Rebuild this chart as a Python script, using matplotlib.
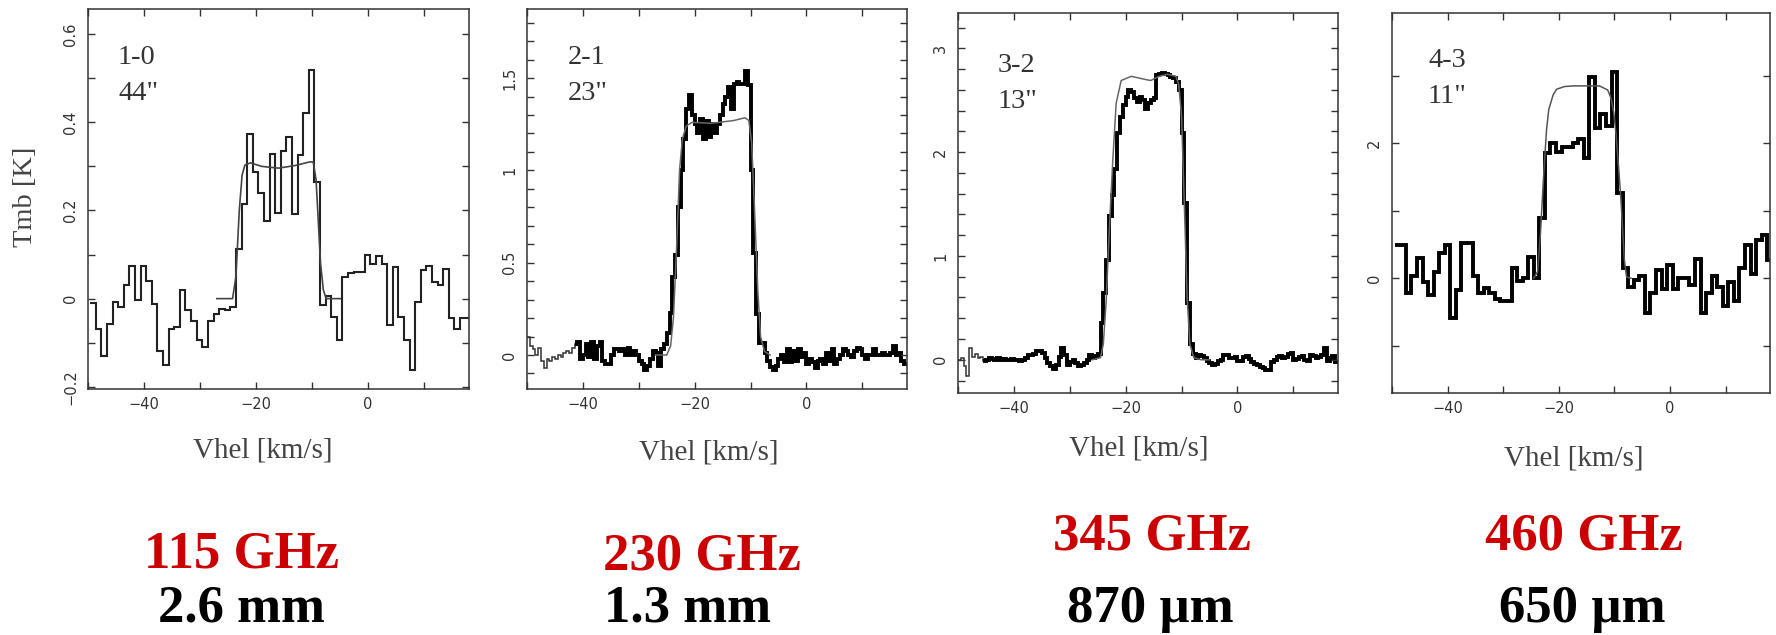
import matplotlib.pyplot as plt
import numpy as np
from matplotlib.ticker import MultipleLocator, FuncFormatter

# ---- CO 1-0 (1 km/s channels, starting at -49.6 km/s)
v1_start = -49.6
t1 = [-0.011, -0.07, -0.13, -0.057, -0.008, -0.019, 0.03, 0.074, -0.004, 0.074,
      0.04, -0.013, -0.118, -0.15, -0.068, -0.064, 0.02, -0.026, -0.05, -0.094,
      -0.11, -0.05, -0.034, -0.023, -0.026, -0.019, 0.113, 0.215, 0.374, 0.287,
      0.24, 0.177, 0.328, 0.194, 0.336, 0.366, 0.192, 0.325, 0.42, 0.518,
      0.264, -0.015, 0.005, -0.042, -0.094, 0.05, 0.058, 0.06, 0.06, 0.098,
      0.078, 0.096, 0.078, -0.06, 0.072, -0.042, -0.094, -0.162, -0.008, 0.064,
      0.074, 0.038, 0.03, 0.068, -0.045, -0.068, -0.045, -0.045]
m1_v = [-27, -24.2, -23.6, -23.0, -22.5, -22.0, -21.0, -19.0, -16.0, -13.0,
        -10.5, -9.8, -9.3, -9.0, -8.5, -8.0, -7.5, -5.0]
m1_t = [0.0, 0.0, 0.05, 0.2, 0.28, 0.303, 0.308, 0.30, 0.296, 0.302,
        0.31, 0.31, 0.27, 0.2, 0.08, 0.02, 0.0, 0.0]

# ---- CO 2-1 (0.5 km/s channels)
t2_thin = [0.10, 0.05, 0.03, 0.00, 0.04, -0.03, -0.07, -0.02, -0.03, -0.01,
           -0.02, 0.00, -0.01, 0.01, 0.02, 0.01, 0.04, 0.06]          # -50 .. -41
t2_left = [0.07, -0.02, 0.00, 0.06, -0.01, 0.07, -0.02, 0.05, 0.07, -0.03,
           -0.05, -0.05, 0.00, 0.03, 0.03, 0.02, 0.03, 0.00, 0.04, 0.00,
           0.02, 0.00, -0.03, -0.05, -0.08, -0.06, -0.02, 0.02, 0.01, -0.06,
           0.03, 0.06]                                                   # -41 .. -25
t2_line = [0.12, 0.23, 0.42, 0.54, 0.80, 1.00, 1.17, 1.33, 1.41, 1.30,
           1.25, 1.20, 1.28, 1.17, 1.27, 1.18, 1.25, 1.20, 1.25, 1.30,
           1.36, 1.40, 1.45, 1.33, 1.47, 1.48, 1.47, 1.47, 1.54, 1.46,
           1.00, 0.55, 0.22, 0.065, 0.065, 0.01]                         # -25 .. -7
t2_right = [-0.03, -0.065, -0.08, -0.06, -0.02, 0.00, -0.04, 0.03, -0.04, 0.02,
            -0.03, 0.03, -0.01, 0.01, -0.05, -0.02, -0.04, -0.07, -0.03, -0.02,
            -0.05, 0.01, -0.03, 0.03, -0.05, -0.02, 0.00, 0.03, 0.02, 0.00,
            -0.01, 0.02, 0.04, 0.03, 0.00, -0.02, 0.00, 0.00, 0.03, 0.00,
            0.00, 0.01, 0.00, 0.00, 0.01, 0.05, 0.00, 0.01, -0.03, -0.05]  # -7 .. 18
m2_v = [-27, -25.0, -24.3, -23.8, -23.2, -22.7, -22.2, -21.5, -20.5, -17.0,
        -13.0, -11.0, -10.3, -9.8, -9.3, -8.7, -8.2, -7.5, -6.5]
m2_t = [0.0, 0.0, 0.05, 0.2, 0.6, 1.0, 1.17, 1.24, 1.26, 1.255,
        1.27, 1.285, 1.27, 1.15, 0.8, 0.35, 0.1, 0.02, 0.0]

# ---- CO 3-2 (0.5 km/s channels)
t3_thin = [0.00, 0.02, -0.06, -0.16, 0.11, 0.03, 0.06, 0.02, 0.03, -0.01]  # -50 .. -45
t3_left = [0.00, 0.02, 0.01, 0.00, 0.02, 0.00, 0.01, 0.00, 0.00, 0.01,
           0.00, 0.00, -0.01, 0.00, 0.02, 0.05, 0.05, 0.06, 0.08, 0.08,
           0.07, 0.02, -0.03, -0.06, -0.09, -0.05, 0.03, 0.11, 0.05, -0.05,
           -0.02, 0.00, -0.03, -0.06, -0.05, -0.03, 0.00, 0.05, 0.02, 0.04]  # -45 .. -25
t3_line = [0.06, 0.35, 0.64, 0.96, 1.38, 1.59, 1.84, 2.18, 2.34, 2.45,
           2.53, 2.60, 2.58, 2.52, 2.48, 2.53, 2.50, 2.42, 2.47, 2.50,
           2.52, 2.74, 2.75, 2.76, 2.75, 2.74, 2.72, 2.71, 2.68, 2.60,
           2.18, 1.51, 0.55, 0.15, 0.06, 0.02]                            # -25 .. -7
t3_right = [0.05, 0.04, 0.02, -0.01, -0.03, -0.05, -0.04, -0.01, 0.00, 0.05,
            0.05, 0.02, 0.02, 0.03, -0.01, -0.01, 0.03, 0.04, 0.01, -0.02,
            -0.04, -0.05, -0.07, -0.08, -0.10, -0.10, -0.02, 0.00, 0.03, 0.04,
            0.02, 0.03, 0.06, 0.07, 0.00, 0.01, 0.03, 0.04, 0.00, -0.01,
            0.05, 0.04, 0.02, 0.03, 0.05, 0.11, -0.01, 0.02, 0.04, -0.02]  # -7 .. 18
m3_v = [-26, -24.5, -24.0, -23.5, -22.9, -22.3, -21.7, -20.8, -19.0, -16.5,
        -15.5, -14.0, -12.5, -11.0, -10.5, -10.0, -9.5, -9.0, -8.5, -7.8, -6.5, -5.0]
m3_t = [0.0, 0.02, 0.15, 0.55, 1.28, 1.92, 2.47, 2.69, 2.73, 2.70,
        2.69, 2.73, 2.75, 2.73, 2.65, 2.35, 1.5, 0.6, 0.15, 0.02, 0.0, 0.0]

# ---- CO 4-3 (1 km/s channels centred on integers)
v4_start = -49.5
t4 = [0.49, 0.49, -0.22, 0.03, 0.30, -0.06, -0.25, 0.10, 0.37, 0.49,
      -0.59, -0.18, 0.52, 0.52, 0.03, -0.22, -0.15, -0.22, -0.30, -0.34,
      -0.34, 0.15, -0.04, 0.00, 0.31, 0.00, 0.89, 1.85, 2.00, 1.87,
      1.94, 1.95, 2.00, 2.06, 1.78, 2.98, 2.22, 2.44, 2.25, 3.05,
      1.26, 0.15, -0.13, -0.03, 0.03, -0.52, -0.22, 0.12, -0.16, 0.19,
      -0.16, 0.01, 0.01, -0.10, 0.28, -0.52, -0.22, 0.03, -0.13, -0.41,
      -0.06, -0.33, 0.15, 0.49, 0.07, 0.57, 0.64, 0.27]
m4_v = [-24.5, -23.8, -23.3, -22.7, -22.2, -21.8, -21.0, -20.4, -19.0, -17.4,
        -14.0, -12.7, -11.2, -10.6, -10.1, -9.7, -9.2, -8.8, -8.2, -7.8, -7.0]
m4_t = [0.0, 0.1, 0.66, 1.55, 2.2, 2.5, 2.72, 2.8, 2.84, 2.85,
        2.85, 2.85, 2.79, 2.67, 2.45, 2.14, 1.6, 1.15, 0.27, 0.02, 0.0]

transitions = ['1-0', '2-1', '3-2', '4-3']
beams = ['44"', '23"', '13"', '11"']
freqs = ['115 GHz', '230 GHz', '345 GHz', '460 GHz']
waves = ['2.6 mm', '1.3 mm', '870 \u00b5m', '650 \u00b5m']

W, H = 1776, 635
fig = plt.figure(figsize=(W / 100, H / 100), dpi=100)


def px_box(x0, y0, x1, y1):
    return [x0 / W, 1 - y1 / H, (x1 - x0) / W, (y1 - y0) / H]


def fmt(v, p):
    return ('%g' % round(v, 3)).replace('-', '\u2212')


def style_axes(ax, ylim, major, minor):
    ax.set_xlim(-50, 18)
    ax.set_ylim(*ylim)
    ax.xaxis.set_major_locator(MultipleLocator(20))
    ax.xaxis.set_minor_locator(MultipleLocator(10))
    ax.yaxis.set_major_locator(MultipleLocator(major))
    ax.yaxis.set_minor_locator(MultipleLocator(minor))
    ax.xaxis.set_major_formatter(FuncFormatter(fmt))
    ax.yaxis.set_major_formatter(FuncFormatter(fmt))
    ax.tick_params(which='both', direction='in', top=True, right=True,
                   length=5, width=1, color='#333333', labelsize=10.5,
                   labelcolor='#333333')
    ax.tick_params(axis='x', pad=6)
    ax.tick_params(axis='y', pad=7)
    for lab in ax.get_yticklabels():
        lab.set_rotation(90)
        lab.set_va('center')
    for s in ax.spines.values():
        s.set_linewidth(1.1)
        s.set_color('#333333')


boxes = [px_box(88, 9, 469, 389), px_box(527, 9, 907, 389),
         px_box(958, 13, 1338, 393), px_box(1392, 13, 1770, 393)]
axes = [fig.add_axes(b) for b in boxes]

# panel 1
ax = axes[0]
e1 = v1_start + np.arange(len(t1) + 1) * 1.0
ax.stairs(t1, e1, baseline=None, color='#222222', lw=1.5)
ax.plot(m1_v, m1_t, color='#444444', lw=1.2)
style_axes(ax, (-0.205, 0.657), 0.2, 0.1)

# panels 2 and 3: thin leftmost part, thick rest
for ax, thin, parts, start_thick, mv, mt, ylim, mj, mn in [
        (axes[1], t2_thin, [t2_left, t2_line, t2_right], -41.0, m2_v, m2_t,
         (-0.184, 1.874), 0.5, 0.1),
        (axes[2], t3_thin, [t3_left, t3_line, t3_right], -45.0, m3_v, m3_t,
         (-0.32, 3.34), 1, 0.2)]:
    e_thin = -50 + np.arange(len(thin) + 1) * 0.5
    ax.stairs(thin, e_thin, baseline=None, color='#333333', lw=1.1)
    thick = np.concatenate([[thin[-1]]] + [np.array(p) for p in parts])
    e_thick = (start_thick - 0.5) + np.arange(len(thick) + 1) * 0.5
    ax.stairs(thick, e_thick, baseline=None, color='black', lw=2.8)
    ax.plot(mv, mt, color='#666666', lw=1.1)
    style_axes(ax, ylim, mj, mn)

# panel 4
ax = axes[3]
e4 = v4_start + np.arange(len(t4) + 1) * 1.0
ax.stairs(t4, e4, baseline=None, color='black', lw=2.8)
ax.plot(m4_v, m4_t, color='#555555', lw=1.1)
style_axes(ax, (-1.70, 3.93), 2, 1)

serif = 'Liberation Serif'

# transition labels inside panels
lab_pos = [(118, 64, 100), (568, 64, 100), (998, 72, 108), (1428, 67, 103)]
for (x, y1, y2), tr, bm in zip(lab_pos, transitions, beams):
    fig.text(x / W, 1 - y1 / H, tr, family=serif, fontsize=20.5,
             color='#333333', va='baseline')
    fig.text(x / W, 1 - y2 / H, bm, family=serif, fontsize=20.5,
             color='#333333', va='baseline')

# x labels
xl_pos = [(263, 457), (709, 459), (1139, 456), (1574, 466)]
for x, y in xl_pos:
    fig.text(x / W, 1 - y / H, 'Vhel [km/s]', family=serif, fontsize=21,
             color='#444444', ha='center', va='baseline')

fig.text(25 / W, 1 - 197 / H, 'Tmb [K]', family=serif, fontsize=20.5,
         color='#444444', rotation=90, ha='center', va='center')

# frequency / wavelength captions
f_pos = [(241, 568), (702, 570), (1152, 550), (1584, 550)]
w_pos = [(241, 622), (687, 622), (1150, 622), (1582, 622)]
for (x, y), s in zip(f_pos, freqs):
    fig.text(x / W, 1 - y / H, s, family=serif, fontsize=38, weight='bold',
             color='#cc0000', ha='center', va='baseline')
for (x, y), s in zip(w_pos, waves):
    fig.text(x / W, 1 - y / H, s, family=serif, fontsize=38, weight='bold',
             color='black', ha='center', va='baseline')

fig.savefig('out.png', dpi=100)
